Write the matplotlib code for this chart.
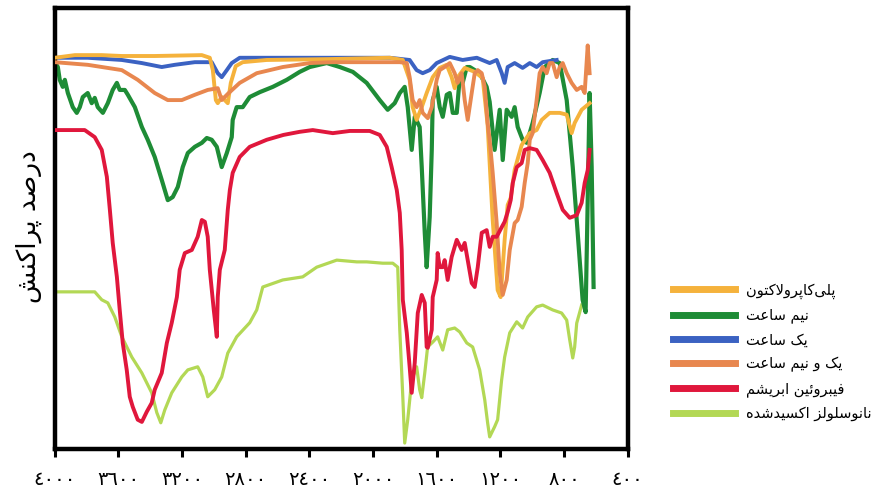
import matplotlib
matplotlib.use('Agg')
import matplotlib.pyplot as plt

# wavenumber (cm-1) / transmittance (%)
pcl_x = [4000, 3874, 3705, 3579, 3372, 3076, 3026, 3007, 2988, 2976, 2951, 2932, 2913, 2894,
         2863, 2819, 2668, 2272, 1895, 1813, 1770, 1751, 1726, 1694, 1663, 1625, 1581, 1537,
         1506, 1487, 1468, 1424, 1361, 1311, 1280, 1248, 1217, 1198, 1173, 1154, 1135, 1110,
         1066, 1015, 972, 940, 890, 827, 783, 752, 733, 689, 639]
pcl_y = [88.7, 89.3, 89.3, 89.1, 89.1, 89.3, 88.7, 85.9, 79.1, 78.4, 79.8, 79.1, 78.4, 83.0,
         86.8, 87.7, 88.2, 88.4, 88.7, 88.2, 83.7, 77.5, 74.6, 77.5, 80.7, 84.3, 86.4, 87.1,
         84.3, 81.8, 84.3, 86.4, 85.5, 84.1, 73.5, 51.9, 36.0, 34.4, 47.4, 55.3, 56.9, 63.3,
         68.9, 71.6, 72.3, 74.6, 76.2, 76.2, 75.8, 71.6, 73.9, 76.9, 78.4]

half_x = [4000, 3981, 3969, 3950, 3937, 3918, 3887, 3862, 3843, 3824, 3793, 3768, 3749, 3730,
          3698, 3667, 3636, 3610, 3592, 3560, 3541, 3497, 3453, 3416, 3372, 3328, 3290, 3259,
          3227, 3196, 3164, 3120, 3076, 3045, 3014, 2982, 2951, 2919, 2888, 2882, 2857, 2819,
          2775, 2712, 2630, 2542, 2461, 2398, 2291, 2209, 2127, 2040, 1958, 1908, 1864, 1832,
          1801, 1782, 1757, 1738, 1707, 1694, 1675, 1663, 1644, 1631, 1625, 1600, 1581, 1562,
          1537, 1518, 1499, 1474, 1455, 1437, 1411, 1392, 1330, 1286, 1267, 1236, 1204, 1185,
          1160, 1129, 1110, 1091, 1060, 1034, 997, 953, 921, 871, 827, 783, 745, 714, 683, 664,
          651, 639, 626, 614]
half_y = [87.7, 86.6, 83.7, 82.1, 83.7, 80.7, 77.5, 76.2, 77.5, 79.8, 80.7, 78.4, 79.6, 77.5,
          76.2, 78.4, 81.4, 83.0, 81.4, 81.4, 80.3, 77.5, 73.0, 70.1, 66.2, 61.0, 56.4, 57.1,
          59.4, 63.9, 67.1, 68.5, 69.4, 70.5, 70.1, 68.5, 63.9, 67.1, 70.7, 74.6, 77.5, 77.5,
          79.8, 80.9, 82.1, 83.7, 85.5, 86.6, 87.5, 86.6, 85.5, 83.0, 79.1, 76.9, 78.4, 80.7,
          82.1, 77.5, 67.8, 75.3, 73.0, 63.9, 49.0, 41.2, 52.6, 67.8, 79.1, 82.1, 77.5, 75.3,
          80.3, 80.7, 76.2, 76.2, 84.3, 83.0, 86.6, 86.6, 85.2, 82.1, 78.7, 67.8, 76.9, 65.5,
          76.9, 75.3, 77.5, 73.0, 70.1, 69.4, 73.9, 80.7, 86.6, 88.2, 87.5, 79.1, 63.9, 49.0,
          33.8, 31.0, 56.4, 80.7, 63.9, 36.7]

one_x = [4000, 3793, 3579, 3453, 3328, 3246, 3120, 3014, 2976, 2951, 2919, 2888, 2838, 2272,
         1895, 1770, 1726, 1688, 1644, 1600, 1518, 1437, 1348, 1267, 1223, 1191, 1173, 1154,
         1110, 1060, 1015, 972, 934, 846]
one_y = [88.7, 88.7, 88.2, 87.5, 86.6, 87.1, 87.7, 87.7, 85.2, 84.3, 85.9, 87.5, 88.7, 88.7,
         88.7, 88.2, 85.9, 85.2, 85.9, 87.5, 88.9, 88.2, 88.7, 87.5, 88.2, 85.2, 83.0, 86.6,
         87.5, 86.4, 87.5, 86.6, 87.7, 88.2]

onehalf_x = [4000, 3793, 3579, 3479, 3372, 3290, 3202, 3120, 3039, 2976, 2951, 2913, 2838, 2731,
             2567, 2398, 2253, 1832, 1788, 1770, 1751, 1726, 1707, 1688, 1656, 1631, 1600, 1581,
             1550, 1518, 1487, 1468, 1443, 1424, 1405, 1380, 1361, 1342, 1317, 1298, 1280, 1267,
             1248, 1223, 1204, 1185, 1160, 1141, 1110, 1091, 1066, 1047, 1028, 1015, 997, 972,
             953, 934, 909, 890, 871, 846, 827, 808, 783, 752, 720, 689, 670, 651, 639]
onehalf_y = [87.7, 87.1, 85.9, 83.7, 80.7, 79.1, 79.1, 80.3, 81.4, 81.8, 79.1, 80.5, 83.0, 85.2,
             86.6, 87.5, 87.7, 87.7, 87.5, 84.3, 79.1, 77.5, 79.1, 76.2, 75.0, 77.5, 83.7, 85.9,
             86.6, 87.5, 85.2, 83.0, 85.2, 79.1, 74.6, 80.7, 85.2, 85.9, 85.2, 82.1, 73.9, 70.1,
             62.6, 51.2, 39.9, 34.9, 38.3, 45.1, 51.2, 51.9, 54.9, 60.3, 64.8, 70.1, 71.6, 79.1,
             85.2, 86.6, 85.2, 87.5, 87.5, 84.3, 86.6, 87.5, 85.2, 83.0, 81.4, 82.1, 80.7, 91.5,
             85.2]

silk_x = [4000, 3812, 3749, 3705, 3673, 3654, 3636, 3610, 3592, 3573, 3548, 3529, 3510, 3479,
          3453, 3422, 3391, 3372, 3328, 3296, 3265, 3233, 3215, 3183, 3139, 3102, 3076, 3057,
          3039, 3026, 3001, 2982, 2976, 2963, 2932, 2913, 2900, 2882, 2838, 2775, 2668, 2563,
          2461, 2379, 2253, 2146, 2021, 1958, 1914, 1883, 1851, 1832, 1820, 1813, 1788, 1770,
          1757, 1738, 1719, 1694, 1675, 1663, 1656, 1631, 1625, 1600, 1594, 1581, 1562, 1550,
          1531, 1506, 1474, 1443, 1424, 1405, 1380, 1361, 1342, 1317, 1286, 1267, 1248, 1223,
          1191, 1173, 1154, 1135, 1122, 1097, 1066, 1047, 1015, 972, 934, 890, 846, 808, 764,
          720, 689, 670, 651, 639]
silk_y = [72.3, 72.3, 70.7, 67.8, 61.7, 54.2, 46.7, 39.0, 31.5, 24.0, 17.9, 11.8, 9.5, 6.6,
          6.1, 8.4, 10.4, 13.4, 17.2, 24.0, 28.6, 34.4, 40.6, 44.4, 45.1, 48.1, 51.9, 51.5,
          48.1, 40.6, 31.5, 25.4, 34.4, 40.6, 45.1, 54.2, 58.7, 62.6, 66.2, 68.5, 70.1, 71.2,
          71.9, 72.3, 71.6, 72.1, 72.1, 71.2, 68.5, 63.9, 58.7, 53.5, 45.1, 33.8, 26.3, 18.6,
          12.7, 19.5, 30.8, 34.9, 33.1, 23.1, 22.9, 27.0, 34.4, 38.3, 44.4, 41.2, 41.2, 42.8,
          38.3, 43.5, 47.4, 45.1, 46.7, 42.8, 37.6, 36.7, 41.2, 49.0, 49.6, 45.8, 48.1, 48.1,
          50.3, 51.5, 53.7, 56.4, 60.3, 63.9, 64.8, 67.8, 68.2, 67.8, 65.5, 62.6, 58.0, 54.2,
          52.4, 53.0, 55.8, 60.3, 63.2, 67.8]

cnc_x = [4000, 3749, 3705, 3667, 3623, 3579, 3516, 3453, 3391, 3359, 3334, 3309, 3265, 3202,
         3164, 3102, 3070, 3039, 2995, 2951, 2913, 2857, 2775, 2731, 2693, 2567, 2442, 2354,
         2228, 2102, 2040, 1939, 1876, 1845, 1832, 1813, 1801, 1782, 1757, 1726, 1707, 1694,
         1675, 1657, 1625, 1594, 1562, 1531, 1487, 1455, 1411, 1374, 1330, 1298, 1280, 1267,
         1236, 1217, 1192, 1173, 1141, 1097, 1060, 1028, 972, 934, 871, 815, 783, 764, 745,
         733, 720, 689]
cnc_y = [35.6, 35.6, 33.8, 33.1, 29.9, 25.4, 20.8, 17.2, 12.7, 8.2, 5.9, 8.8, 12.7, 16.3,
         17.9, 18.6, 16.3, 11.8, 13.4, 16.3, 21.7, 25.4, 28.6, 31.5, 36.7, 38.3, 39.0, 41.2,
         42.8, 42.4, 42.4, 42.1, 42.1, 41.2, 27.0, 11.8, 1.3, 6.6, 15.6, 18.6, 13.4, 11.6,
         17.2, 23.1, 24.2, 25.4, 22.4, 27.0, 27.4, 26.5, 24.0, 23.1, 17.9, 11.1, 5.9, 2.7,
         5.0, 6.6, 15.6, 20.8, 26.3, 28.8, 27.4, 29.9, 32.2, 32.6, 31.5, 30.8, 29.2, 24.7,
         20.6, 23.1, 28.5, 32.6]

labels = ['پلی‌کاپرولاکتون', 'نیم ساعت', 'یک ساعت', 'یک و نیم ساعت',
          'فیبروئین ابریشم', 'نانوسلولز اکسیدشده']
colors = ['#F5B23C', '#1E8C36', '#3B62C2', '#E8874F', '#E0173C', '#B3D855']
y_title = 'درصد پراکنش'
tick_vals = [4000, 3600, 3200, 2800, 2400, 2000, 1600, 1200, 800, 400]
tick_text = ['٤٠٠٠', '٣٦٠٠', '٣٢٠٠', '٢٨٠٠', '٢٤٠٠', '٢٠٠٠', '١٦٠٠', '١٢٠٠', '٨٠٠', '٤٠٠']

# matplotlib has no arabic shaping, so pick presentation forms by hand
# (isolated, final, initial, medial)
FORMS = {
    '\u0627': (0xFE8D, 0xFE8E, None, None),
    '\u0628': (0xFE8F, 0xFE90, 0xFE91, 0xFE92),
    '\u067E': (0xFB56, 0xFB57, 0xFB58, 0xFB59),
    '\u062A': (0xFE95, 0xFE96, 0xFE97, 0xFE98),
    '\u062F': (0xFEA9, 0xFEAA, None, None),
    '\u0631': (0xFEAD, 0xFEAE, None, None),
    '\u0632': (0xFEAF, 0xFEB0, None, None),
    '\u0633': (0xFEB1, 0xFEB2, 0xFEB3, 0xFEB4),
    '\u0634': (0xFEB5, 0xFEB6, 0xFEB7, 0xFEB8),
    '\u0635': (0xFEB9, 0xFEBA, 0xFEBB, 0xFEBC),
    '\u0639': (0xFEC9, 0xFECA, 0xFECB, 0xFECC),
    '\u0641': (0xFED1, 0xFED2, 0xFED3, 0xFED4),
    '\u06A9': (0xFB8E, 0xFB8F, 0xFB90, 0xFB91),
    '\u0644': (0xFEDD, 0xFEDE, 0xFEDF, 0xFEE0),
    '\u0645': (0xFEE1, 0xFEE2, 0xFEE3, 0xFEE4),
    '\u0646': (0xFEE5, 0xFEE6, 0xFEE7, 0xFEE8),
    '\u0647': (0xFEE9, 0xFEEA, 0xFEEB, 0xFEEC),
    '\u0648': (0xFEED, 0xFEEE, None, None),
    '\u06CC': (0xFBFC, 0xFBFD, 0xFBFE, 0xFBFF),
    '\u0626': (0xFE89, 0xFE8A, 0xFE8B, 0xFE8C),
}


def shape(text):
    out = []
    i = 0
    while i < len(text):
        c = text[i]
        if c not in FORMS:
            if c != '\u200c':
                out.append(c)
            i += 1
            continue
        prev = text[i - 1] if i > 0 else ''
        join_prev = prev in FORMS and FORMS[prev][2] is not None
        # lam + alef ligature
        if c == '\u0644' and i + 1 < len(text) and text[i + 1] == '\u0627':
            out.append(chr(0xFEFC if join_prev else 0xFEFB))
            i += 2
            continue
        nxt = text[i + 1] if i + 1 < len(text) else ''
        iso, fin, ini, med = FORMS[c]
        join_next = ini is not None and nxt in FORMS
        if join_prev and join_next:
            g = med
        elif join_prev:
            g = fin
        elif join_next:
            g = ini
        else:
            g = iso
        out.append(chr(g))
        i += 1
    return ''.join(reversed(out))


plt.rcParams['font.family'] = ['DejaVu Sans']

fig = plt.figure(figsize=(8.84, 4.97), dpi=100)
ax = fig.add_axes([0.062, 0.097, 0.648, 0.887])

series = [(pcl_x, pcl_y), (half_x, half_y), (one_x, one_y),
          (onehalf_x, onehalf_y), (silk_x, silk_y), (cnc_x, cnc_y)]
zorders = [3, 2, 2.5, 4, 5, 1]
widths = [2.8, 3.0, 2.8, 2.8, 2.8, 2.3]
for (xs, ys), lab, col, z, w in zip(series, labels, colors, zorders, widths):
    ax.plot(xs, ys, color=col, lw=w, zorder=z, label=shape(lab),
            solid_joinstyle='round')

ax.set_xlim(4000, 400)
ax.set_ylim(0, 100)
ax.set_xticks(tick_vals)
ax.set_xticklabels(tick_text, fontsize=14)
ax.set_yticks([])
ax.tick_params(axis='x', direction='out', length=6, width=2.2, pad=9)
for s in ax.spines.values():
    s.set_linewidth(3.2)
    s.set_color('black')

fig.text(0.033, 0.545, shape(y_title), rotation=90, fontsize=19,
         ha='center', va='center')

leg = fig.legend(loc='center left', bbox_to_anchor=(0.755, 0.292), frameon=False,
                 fontsize=10.5, handlelength=4.2, handleheight=0.7, labelspacing=0.62,
                 borderaxespad=0)
for h in leg.get_lines():
    h.set_linewidth(5)

fig.savefig('out.png', dpi=100)
